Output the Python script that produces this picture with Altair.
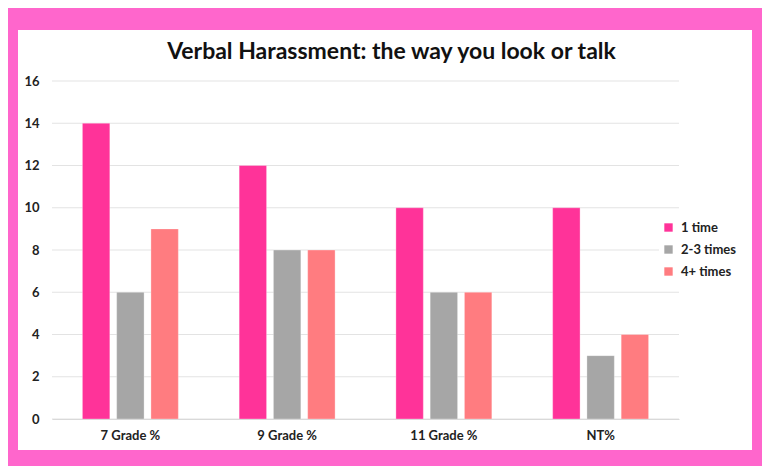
import altair as alt
import pandas as pd

categories = ["7 Grade %", "9 Grade %", "11 Grade %", "NT%"]
series = ["1 time", "2-3 times", "4+ times"]
one_time = [14, 12, 10, 10]
two_three = [6, 8, 6, 3]
four_plus = [9, 8, 6, 4]
colors = ["#FF3399", "#A6A6A6", "#FF7C80"]
y_ticks = [0, 2, 4, 6, 8, 10, 12, 14, 16]

rows = []
for i, c in enumerate(categories):
    for s, vals in zip(series, [one_time, two_three, four_plus]):
        rows.append({"category": c, "series": s, "value": vals[i]})
df = pd.DataFrame(rows)

W, H = 627, 338
FONT = "Lato"

panel = alt.Chart(pd.DataFrame({"a": [0]})).mark_rect(color="white").encode(
    x=alt.value(-34), x2=alt.value(700), y=alt.value(-51), y2=alt.value(369)
)

grid = alt.Chart(pd.DataFrame({"tick": y_ticks})).mark_rule(color="#E3E3E3", strokeWidth=1).encode(
    y=alt.Y("tick:Q"),
)

bars = alt.Chart(df).mark_bar(stroke="#FFFFFF", strokeWidth=0.6, strokeOpacity=0.5).encode(
    x=alt.X("category:N", sort=categories, title=None,
            scale=alt.Scale(paddingInner=0.388, paddingOuter=0.194),
            axis=alt.Axis(labelAngle=0, labelFont=FONT, labelFontSize=13, labelFontWeight="bold",
                          labelColor="#222222", labelPadding=10, ticks=False, domain=True,
                          domainColor="#D9D9D9", grid=False, zindex=1)),
    xOffset=alt.XOffset("series:N", sort=series,
                        scale=alt.Scale(paddingInner=0.2, paddingOuter=0)),
    y=alt.Y("value:Q", title=None,
            scale=alt.Scale(domain=[0, 16], nice=False),
            axis=alt.Axis(values=y_ticks, labelFont=FONT, labelFontSize=13, labelFontWeight="bold",
                          labelColor="#222222", labelPadding=13, ticks=False, domain=False,
                          grid=False, zindex=1)),
    color=alt.Color("series:N", sort=series,
                    scale=alt.Scale(domain=series, range=colors),
                    legend=alt.Legend(title=None, orient="none", legendX=607, legendY=137,
                                      symbolType="square", symbolSize=70, symbolStrokeWidth=0,
                                      labelFont=FONT, labelFontSize=13, labelFontWeight="bold",
                                      labelColor="#222222", rowPadding=8, labelOffset=6,
                                      fillColor="white", padding=3)),
)

chart = alt.layer(panel, grid, bars).properties(
    width=W, height=H,
    title=alt.TitleParams("Verbal Harassment: the way you look or talk", anchor="middle",
                          dx=26, offset=-34, font=FONT, fontSize=23, fontWeight="bold",
                          color="#111111"),
    background="#FF66CC",
    padding={"left": 44, "top": 73, "right": 83, "bottom": 47},
    autosize=alt.AutoSizeParams(type="none"),
).configure_view(stroke=None)

chart.save("out.html", embed_options={"renderer": "svg", "actions": False})
